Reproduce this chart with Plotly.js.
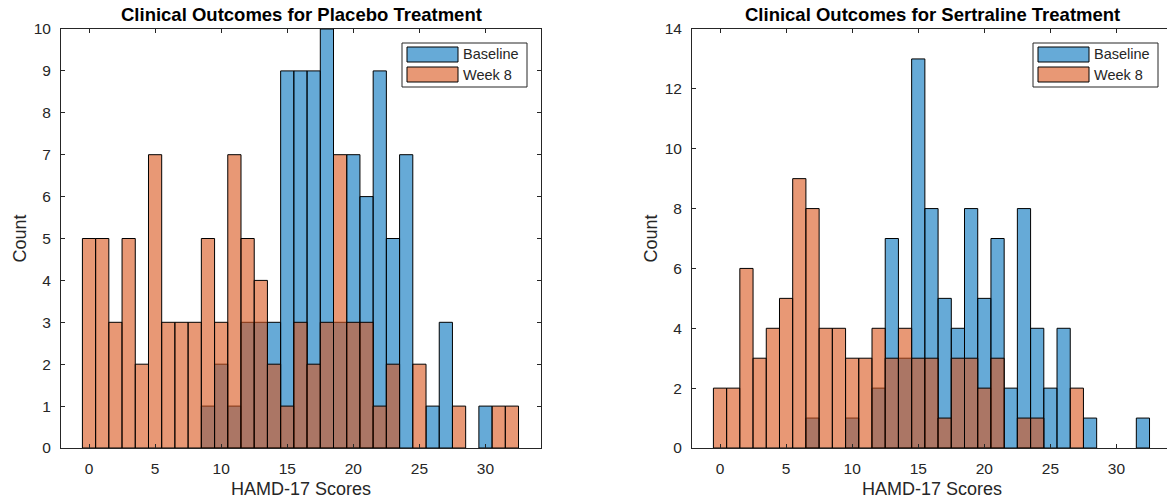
<!DOCTYPE html>
<html>
<head>
<meta charset="utf-8">
<script src="https://cdn.plot.ly/plotly-3.0.1.min.js"></script>
<style>
html,body{margin:0;padding:0;overflow:hidden;background:#fff;}
#chart{width:1173px;height:501px;}
</style>
</head>
<body>
<div id="chart"></div>
<script>
// HAMD-17 score bins (bin centres, width 1)
const scoreBins = [0,1,2,3,4,5,6,7,8,9,10,11,12,13,14,15,16,17,18,19,20,21,22,23,24,25,26,27,28,29,30,31,32];

// Placebo group counts per bin
const placeboBaseline = [0,0,0,0,0,0,0,0,0,1,2,1,3,3,3,9,9,9,10,3,7,6,9,5,7,0,1,3,0,0,1,0,0];
const placeboWeek8    = [5,5,3,5,2,7,3,3,3,5,3,7,5,4,2,1,3,2,3,7,3,3,1,2,0,2,0,0,1,0,0,1,1];

// Sertraline group counts per bin
const sertralineBaseline = [0,0,0,0,0,0,0,1,0,0,1,0,2,7,3,13,8,5,4,8,5,7,2,8,4,2,4,0,1,0,0,0,1];
const sertralineWeek8    = [2,2,6,3,4,5,9,8,4,4,3,3,4,3,4,3,3,1,3,3,2,3,0,1,1,0,0,2,0,0,0,0,0];

const seriesNames = ['Baseline', 'Week 8'];
const panelTitles = ['Clinical Outcomes for Placebo Treatment', 'Clinical Outcomes for Sertraline Treatment'];
const xTickVals = [0,5,10,15,20,25,30];

const BLUE = 'rgba(0,114,189,0.6)';
const ORANGE = 'rgba(217,83,25,0.6)';
const AX = 'rgb(38,38,38)';
const FONT = '"Liberation Sans", Arial, Helvetica, sans-serif';

function nz(counts){
  const x=[], y=[];
  counts.forEach((c,i)=>{ if(c>0){ x.push(scoreBins[i]); y.push(c);} });
  return {x,y};
}
function barTrace(counts, color, xa, ya, name){
  const d = nz(counts);
  return {type:'bar', x:d.x, y:d.y, width:1, name:name, xaxis:xa, yaxis:ya,
    marker:{color:color, line:{color:'#000', width:1}}, showlegend:false, hoverinfo:'x+y'};
}

const traces = [
  barTrace(placeboBaseline, BLUE, 'x', 'y', seriesNames[0]),
  barTrace(placeboWeek8, ORANGE, 'x', 'y', seriesNames[1]),
  barTrace(sertralineBaseline, BLUE, 'x2', 'y2', seriesNames[0]),
  barTrace(sertralineWeek8, ORANGE, 'x2', 'y2', seriesNames[1])
];

const W = 1173, H = 501;
const yDom = [(H-448)/H, (H-29)/H];
function xAxis(domain){
  return {domain:domain, range:[-2.12,34.2], tickvals:xTickVals, ticks:'inside', ticklen:4,
    tickcolor:AX, showline:true, linecolor:AX, linewidth:1, mirror:'ticks', showgrid:false, zeroline:false,
    tickfont:{family:FONT, size:15.5, color:AX}, ticklabelstandoff:6, fixedrange:true};
}
function yAxis(domain, maxV, dt, anchor){
  return {domain:domain, range:[0,maxV], dtick:dt, tick0:0, ticks:'inside', ticklen:4, anchor:anchor,
    tickcolor:AX, showline:true, linecolor:AX, linewidth:1, mirror:'ticks', showgrid:false, zeroline:false,
    tickfont:{family:FONT, size:15.5, color:AX}, ticklabelstandoff:6, fixedrange:true};
}

const annotations = [];
const shapes = [];
[['x','y',0],['x2','y2',1]].forEach(([xa,ya,k])=>{
  const xd = xa + ' domain', yd = ya + ' domain';
  annotations.push({xref:xd, yref:'paper', x:0.5, y:(H-14.5)/H, xanchor:'center', yanchor:'middle',
    text:'<b>'+panelTitles[k]+'</b>', showarrow:false, font:{family:FONT, size:18.5, color:'#000'}});
  annotations.push({xref:xd, yref:'paper', x:0.5, y:(H-489)/H, xanchor:'center', yanchor:'middle',
    text:'HAMD-17 Scores', showarrow:false, font:{family:FONT, size:18, color:AX}});
  annotations.push({xref:'paper', yref:yd, x:(k===0?19:650)/W, y:0.5, xanchor:'center', yanchor:'middle',
    text:'Count', textangle:-90, showarrow:false, font:{family:FONT, size:18, color:AX}});
  // legend box
  const px = v => v/480, py = v => (448-v)/419;
  const L0 = 341; // legend left offset from axis left (px)
  shapes.push({type:'rect', xref:xd, yref:yd, x0:px(L0), x1:px(L0+125), y0:py(43), y1:py(87),
    line:{color:AX, width:1}, fillcolor:'#fff'});
  shapes.push({type:'rect', xref:xd, yref:yd, x0:px(L0+5), x1:px(L0+56), y0:py(47), y1:py(62),
    line:{color:'#000', width:1}, fillcolor:BLUE});
  shapes.push({type:'rect', xref:xd, yref:yd, x0:px(L0+5), x1:px(L0+56), y0:py(67), y1:py(82),
    line:{color:'#000', width:1}, fillcolor:ORANGE});
  annotations.push({xref:xd, yref:yd, x:px(L0+59), y:py(54.5), xanchor:'left', yanchor:'middle',
    text:seriesNames[0], showarrow:false, font:{family:FONT, size:14.5, color:AX}});
  annotations.push({xref:xd, yref:yd, x:px(L0+59), y:py(75), xanchor:'left', yanchor:'middle',
    text:seriesNames[1], showarrow:false, font:{family:FONT, size:14.5, color:AX}});
});

const layout = {
  width:W, height:H, margin:{l:0,r:0,t:0,b:0}, barmode:'overlay', bargap:0,
  paper_bgcolor:'#fff', plot_bgcolor:'#fff', showlegend:false,
  xaxis: xAxis([61/W, 541/W]), yaxis: yAxis(yDom, 10, 1, 'x'),
  xaxis2: Object.assign(xAxis([692/W, 1172/W]), {anchor:'y2'}), yaxis2: yAxis(yDom, 14, 2, 'x2'),
  annotations: annotations, shapes: shapes
};
layout.xaxis.anchor = 'y';

Plotly.newPlot('chart', traces, layout, {displayModeBar:false, staticPlot:true});
</script>
</body>
</html>
